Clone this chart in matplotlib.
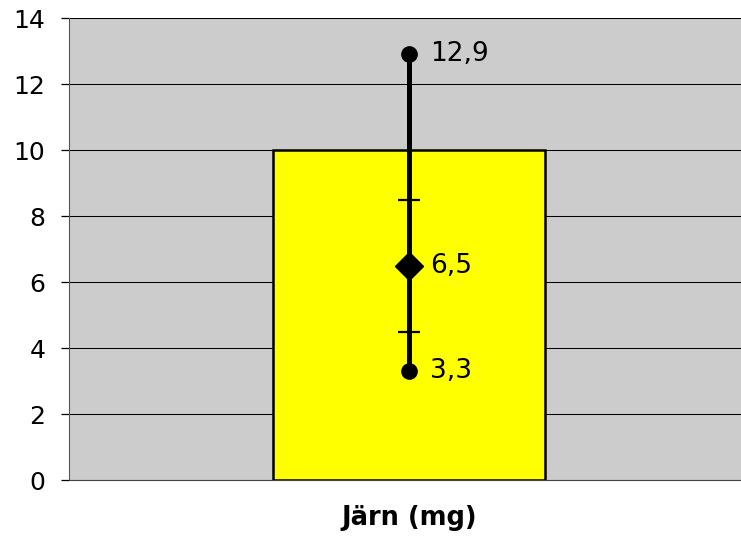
import matplotlib.pyplot as plt

# iron intake summary: mean bar plus min / mean / max and ±SD marks
category = ["Järn (mg)"]
bar_values = [10]
low_value = 3.3
mean_value = 6.5
high_value = 12.9
sd_marks = [8.5, 4.5]
point_labels = ["12,9", "6,5", "3,3"]
y_ticks = [0, 2, 4, 6, 8, 10, 12, 14]

plt.rcParams["font.family"] = ["DejaVu Sans"]

fig = plt.figure(figsize=(7.41, 5.41), dpi=100)
ax = fig.add_axes([69 / 741, 61 / 541, 680 / 741, 462 / 541])
ax.set_facecolor("#cccccc")

ax.bar([0], bar_values, width=0.4, color="#ffff00", edgecolor="black",
       linewidth=1.8, zorder=2)

ax.plot([0, 0], [low_value, high_value], color="black", lw=3.6, zorder=3)
ax.plot([0, 0], [low_value, high_value], "o", color="black", ms=11, zorder=4)
ax.plot([0], [mean_value], "D", color="black", ms=14, zorder=4)
ax.plot([0] * len(sd_marks), sd_marks, "_", color="black", ms=16, mew=1.6,
        zorder=4)

for val, txt in zip([high_value, mean_value, low_value], point_labels):
    ax.annotate(txt, (0, val), xytext=(15, 0), textcoords="offset points",
                va="center", ha="left", fontsize=19, zorder=5)

ax.set_xlim(-0.5, 0.5)
ax.set_ylim(0, 14)
ax.set_yticks(y_ticks)
ax.set_yticklabels([str(t) for t in y_ticks], fontsize=18)
ax.yaxis.grid(True, color="black", lw=0.75)
ax.set_axisbelow(True)
ax.tick_params(axis="y", length=6, width=0.9, direction="out", pad=11)
ax.set_xticks([])
ax.set_xlabel(category[0], fontsize=18.5, fontweight="bold", labelpad=18)

for side in ["top", "right"]:
    ax.spines[side].set_visible(False)
ax.spines["left"].set_color("#555555")
ax.spines["bottom"].set_color("#444444")

fig.savefig("out.png", dpi=100)
